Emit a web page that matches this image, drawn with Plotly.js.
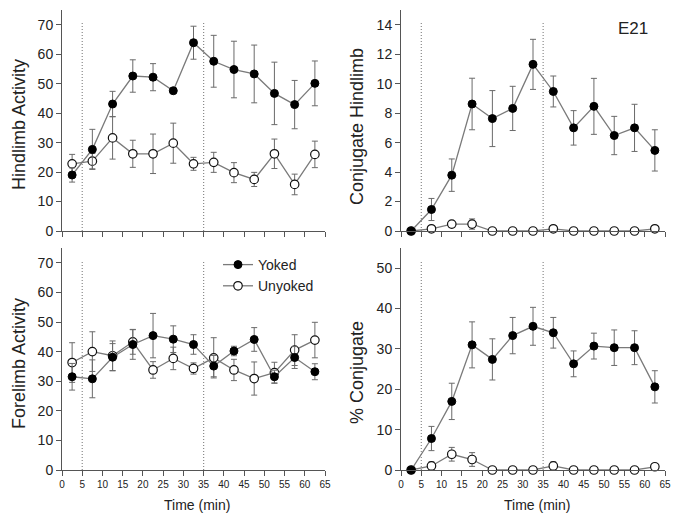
<!DOCTYPE html>
<html>
<head>
<meta charset="utf-8">
<script src="https://cdn.plot.ly/plotly-3.0.1.min.js"></script>
<style>html,body{margin:0;padding:0;background:#fff;}#chart{width:678px;height:521px;}</style>
</head>
<body>
<div id="chart"></div>
<script>
// Time bins (min)
const time = [2.5, 7.5, 12.5, 17.5, 22.5, 27.5, 32.5, 37.5, 42.5, 47.5, 52.5, 57.5, 62.5];

// Hindlimb Activity
const hindYoked      = [19, 27.7, 43.1, 52.6, 52.2, 47.6, 63.9, 57.6, 54.8, 53.3, 46.7, 42.9, 50.1];
const hindYokedErr   = [2.4, 6.8, 4.3, 5.5, 4.6, 0.6, 5.6, 8.8, 9.6, 9.8, 10.6, 8.2, 7.6];
const hindUnyoked    = [22.8, 23.7, 31.6, 26.2, 26.2, 29.8, 22.8, 23.3, 19.8, 17.5, 26.2, 15.8, 26];
const hindUnyokedErr = [3.2, 2.6, 7.2, 4.6, 6.7, 6.8, 2.2, 3.4, 3.4, 2.4, 5.0, 3.5, 4.5];

// Conjugate Hindlimb
const conjYoked      = [0, 1.46, 3.79, 8.62, 7.63, 8.32, 11.31, 9.47, 7.0, 8.46, 6.48, 7.0, 5.47];
const conjYokedErr   = [0, 0.75, 1.1, 1.75, 1.9, 1.5, 1.7, 1.05, 1.17, 1.9, 1.3, 1.6, 1.4];
const conjUnyoked    = [0, 0.15, 0.47, 0.47, 0, 0, 0, 0.15, 0, 0, 0, 0, 0.15];
const conjUnyokedErr = [0, 0, 0.2, 0.35, 0, 0, 0, 0, 0, 0, 0, 0, 0];

// Forelimb Activity
const foreYoked      = [31.5, 30.8, 38.1, 42.4, 45.4, 44.2, 42.4, 35.1, 40.2, 44.1, 31.5, 38, 33.2];
const foreYokedErr   = [4.5, 6.4, 4.6, 5, 7.5, 4.5, 3.3, 3.6, 1.6, 4, 2.2, 3.7, 2.7];
const foreUnyoked    = [36.3, 40, 38.6, 43.3, 33.8, 37.7, 34.3, 37.9, 33.8, 30.9, 32.9, 40.5, 43.9];
const foreUnyokedErr = [6.7, 6.7, 5, 4.2, 2.8, 3.8, 1.9, 6.8, 3.6, 5.6, 3.5, 5.2, 6];

// % Conjugate
const pctYoked      = [0, 7.8, 17.0, 31.0, 27.4, 33.3, 35.6, 34.0, 26.3, 30.7, 30.3, 30.3, 20.6];
const pctYokedErr   = [0, 3, 4.5, 5.7, 5.1, 4.5, 4.7, 3.8, 3.2, 3.2, 4.4, 4.2, 4];
const pctUnyoked    = [0, 1.0, 3.9, 2.6, 0, 0, 0, 1.0, 0, 0, 0, 0, 0.8];
const pctUnyokedErr = [0, 1, 1.7, 1.7, 0, 0, 0, 1, 0, 0, 0, 0, 0.8];

const seriesNames = ['Yoked', 'Unyoked'];
const xTicks = [0, 5, 10, 15, 20, 25, 30, 35, 40, 45, 50, 55, 60, 65];
const phaseLines = [5, 35];

const lineCol = '#7a7a7a';
const errCol = '#6a6a6a';
const axCol = '#555';
const txtCol = '#222';
const FONT = 'Liberation Sans, Arial, Helvetica, sans-serif';

function pair(ax, yk, ykErr, uy, uyErr, legend) {
  const xa = 'x' + (ax === 1 ? '' : ax), ya = 'y' + (ax === 1 ? '' : ax);
  return [
    {
      x: time, y: uy, xaxis: xa, yaxis: ya, name: seriesNames[1], type: 'scatter', mode: 'lines+markers',
      line: {color: lineCol, width: 1.3},
      marker: {symbol: 'circle', size: 8.5, color: '#fff', line: {color: '#111', width: 1.2}},
      error_y: {type: 'data', array: uyErr, visible: true, color: errCol, thickness: 1, width: 3},
      cliponaxis: false, showlegend: legend, legendrank: 2
    },
    {
      x: time, y: yk, xaxis: xa, yaxis: ya, name: seriesNames[0], type: 'scatter', mode: 'lines+markers',
      line: {color: lineCol, width: 1.3},
      marker: {symbol: 'circle', size: 8, color: '#000', line: {color: '#000', width: 1}},
      error_y: {type: 'data', array: ykErr, visible: true, color: errCol, thickness: 1, width: 3},
      cliponaxis: false, showlegend: legend, legendrank: 1
    }
  ];
}

const data = [].concat(
  pair(1, hindYoked, hindYokedErr, hindUnyoked, hindUnyokedErr, false),
  pair(2, conjYoked, conjYokedErr, conjUnyoked, conjUnyokedErr, false),
  pair(3, foreYoked, foreYokedErr, foreUnyoked, foreUnyokedErr, true),
  pair(4, pctYoked, pctYokedErr, pctUnyoked, pctUnyokedErr, false)
);

const W = 678, H = 521;
const leftDom = [62 / W, 325 / W], rightDom = [401 / W, 665 / W];
const topDom = [1 - 231 / H, 1 - 10 / H], botDom = [1 - 470 / H, 1 - 248 / H];

function xAxis(dom, anchor, labels) {
  return {
    domain: dom, anchor: anchor, range: [0, 65], tickvals: xTicks, ticktext: xTicks.map(String),
    showticklabels: labels, ticks: 'outside', ticklen: 5, tickwidth: 1, tickcolor: axCol,
    showline: true, linecolor: axCol, linewidth: 1, showgrid: false, zeroline: false,
    tickfont: {family: FONT, size: 10, color: txtCol}, automargin: false
  };
}
function yAxis(dom, anchor, range, dtick) {
  return {
    domain: dom, anchor: anchor, range: range, dtick: dtick, tick0: 0,
    ticks: 'outside', ticklen: 5, tickwidth: 1, tickcolor: axCol,
    showline: true, linecolor: axCol, linewidth: 1, showgrid: false, zeroline: false,
    tickfont: {family: FONT, size: 14, color: txtCol}, automargin: false
  };
}

const shapes = [];
[['x', 'y domain'], ['x2', 'y2 domain'], ['x3', 'y3 domain'], ['x4', 'y4 domain']].forEach(([xr, yr]) => {
  phaseLines.forEach(v => shapes.push({
    type: 'line', xref: xr, yref: yr, x0: v, x1: v, y0: 0, y1: 0.945, layer: 'below',
    line: {color: '#8a8a8a', width: 1.2, dash: '1px,2px'}
  }));
});

function ytitle(text, xpx, ypx) {
  return {text: text, xref: 'paper', yref: 'paper', x: xpx / W, y: 1 - ypx / H, textangle: -90,
    xanchor: 'center', yanchor: 'middle', showarrow: false, font: {family: FONT, size: 18, color: txtCol}};
}
const annotations = [
  ytitle('Hindlimb Activity', 19, 125),
  ytitle('Conjugate Hindlimb', 357, 127),
  ytitle('Forelimb Activity', 19, 364),
  ytitle('% Conjugate', 357, 373),
  {text: 'Time (min)', xref: 'paper', yref: 'paper', x: 197 / W, y: 1 - 505 / H, xanchor: 'center', yanchor: 'middle',
    showarrow: false, font: {family: FONT, size: 14, color: txtCol}},
  {text: 'Time (min)', xref: 'paper', yref: 'paper', x: 537 / W, y: 1 - 505 / H, xanchor: 'center', yanchor: 'middle',
    showarrow: false, font: {family: FONT, size: 14, color: txtCol}},
  {text: 'E21', xref: 'paper', yref: 'paper', x: 633 / W, y: 1 - 29 / H, xanchor: 'center', yanchor: 'middle',
    showarrow: false, font: {family: FONT, size: 17, color: txtCol}}
];

const layout = {
  width: W, height: H, margin: {l: 0, r: 0, t: 0, b: 0},
  paper_bgcolor: '#fff', plot_bgcolor: 'rgba(0,0,0,0)',
  font: {family: FONT, color: txtCol},
  xaxis: xAxis(leftDom, 'y', false), yaxis: yAxis(topDom, 'x', [0, 75], 10),
  xaxis2: xAxis(rightDom, 'y2', false), yaxis2: yAxis(topDom, 'x2', [0, 15], 2),
  xaxis3: xAxis(leftDom, 'y3', true), yaxis3: yAxis(botDom, 'x3', [0, 75], 10),
  xaxis4: xAxis(rightDom, 'y4', true), yaxis4: yAxis(botDom, 'x4', [0, 55], 10),
  shapes: shapes, annotations: annotations,
  showlegend: true,
  legend: {x: 218 / W, y: 1 - 249 / H, xanchor: 'left', yanchor: 'top', bgcolor: 'rgba(0,0,0,0)',
    font: {family: FONT, size: 14, color: txtCol}, itemwidth: 30, tracegroupgap: 0, traceorder: 'normal'}
};

Plotly.newPlot('chart', data, layout, {displayModeBar: false, staticPlot: true});
</script>
</body>
</html>
